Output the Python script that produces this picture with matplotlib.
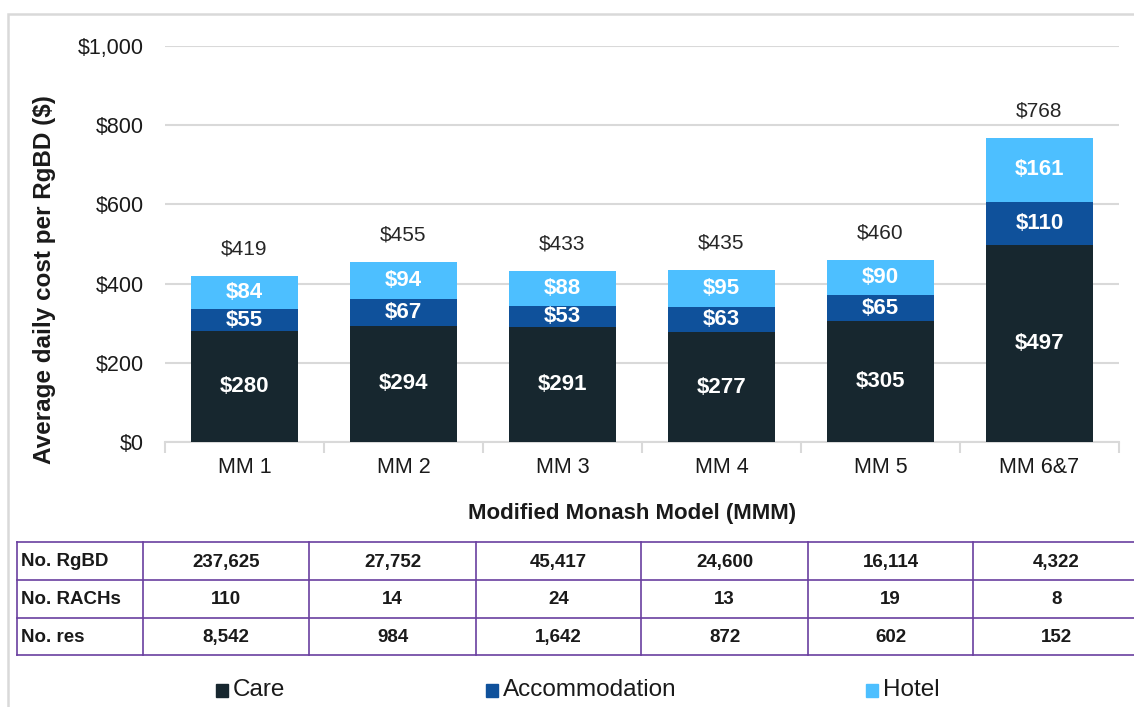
import matplotlib.pyplot as plt
from matplotlib.patches import Rectangle
import numpy as np

plt.rcParams['font.family'] = ['Liberation Sans', 'DejaVu Sans']

# Dados do gráfico
categorias = ['MM 1', 'MM 2', 'MM 3', 'MM 4', 'MM 5', 'MM 6&7']
care = [280, 294, 291, 277, 305, 497]
accommodation = [55, 67, 53, 63, 65, 110]
hotel = [84, 94, 88, 95, 90, 161]
totais = [419, 455, 433, 435, 460, 768]

# Tabela abaixo do gráfico
linhas_tabela = ['No. RgBD', 'No. RACHs', 'No. res']
rgbd = ['237,625', '27,752', '45,417', '24,600', '16,114', '4,322']
rachs = ['110', '14', '24', '13', '19', '8']
res = ['8,542', '984', '1,642', '872', '602', '152']

cor_care = '#17272f'
cor_acc = '#0f519b'
cor_hotel = '#4dbfff'
cinza = '#d9d9d9'
roxo = '#6a3fa0'
texto = '#1a1a1a'

W, H = 1134, 707
fig = plt.figure(figsize=(W / 100, H / 100), dpi=100)

# moldura cinza
fig.patches.append(Rectangle((8 / W, -0.1), 1.2, (H - 14) / H + 0.1, transform=fig.transFigure,
                             fill=False, edgecolor=cinza, lw=1.8))

ax = fig.add_axes([165 / W, 1 - 442 / H, (1119 - 165) / W, (442 - 46) / H])
x = np.arange(len(categorias))
larg = 0.67
b1 = ax.bar(x, care, larg, color=cor_care, zorder=3)
b2 = ax.bar(x, accommodation, larg, bottom=care, color=cor_acc, zorder=3)
base3 = np.array(care) + np.array(accommodation)
b3 = ax.bar(x, hotel, larg, bottom=base3, color=cor_hotel, zorder=3)

for barras, vals, base in [(b1, care, np.zeros(6)), (b2, accommodation, np.array(care)), (b3, hotel, base3)]:
    for i, (b, v) in enumerate(zip(barras, vals)):
        ax.text(b.get_x() + b.get_width() / 2, base[i] + v / 2, f'${v}', ha='center', va='center',
                color='white', fontsize=16, fontweight='bold', zorder=4)

for i, t in enumerate(totais):
    ax.text(x[i], t + 68, f'${t}', ha='center', va='center', fontsize=15, color='#262626')

ax.set_xlim(-0.5, 5.5)
ax.set_ylim(0, 1000)
ax.set_yticks(np.arange(0, 1001, 200))
ax.set_yticklabels([f'${v:,}' for v in range(0, 1001, 200)], fontsize=15.5, color=texto)
ax.grid(axis='y', color=cinza, lw=1.5, zorder=0)
for s in ['top', 'right', 'left']:
    ax.spines[s].set_visible(False)
ax.spines['bottom'].set_color(cinza)
ax.spines['bottom'].set_linewidth(1.5)
ax.tick_params(axis='y', length=0, pad=15)
ax.set_xticks(x)
ax.set_xticklabels(categorias, fontsize=15.5, color=texto)
ax.set_xticks(np.arange(-0.5, 6, 1), minor=True)
ax.tick_params(axis='x', which='major', length=0, pad=11)
ax.tick_params(axis='x', which='minor', length=8, color=cinza, width=1.5)

fig.text(45 / W, 1 - 280 / H, 'Average daily cost per RgBD ($)', rotation=90, ha='center', va='center',
         fontsize=17.5, fontweight='bold', color=texto)
fig.text(632 / W, 1 - 514 / H, 'Modified Monash Model (MMM)', ha='center', va='center',
         fontsize=16, fontweight='bold', color=texto)

# tabela em coordenadas de pixel
tb = fig.add_axes([0, 0, 1, 1], zorder=5)
tb.set_xlim(0, W)
tb.set_ylim(H, 0)
tb.axis('off')
col_x = [17, 143, 309, 476, 641, 808, 973, 1140]
lin_y = [542, 580, 618, 655]
for yy in lin_y:
    tb.plot([col_x[0], col_x[-1]], [yy, yy], color=roxo, lw=1.2)
for xx in col_x[:-1]:
    tb.plot([xx, xx], [lin_y[0], lin_y[-1]], color=roxo, lw=1.2)
for r, (nome, vals) in enumerate(zip(linhas_tabela, [rgbd, rachs, res])):
    yc = (lin_y[r] + lin_y[r + 1]) / 2 + 1
    tb.text(col_x[0] + 4, yc, nome, ha='left', va='center', fontsize=13.5, fontweight='bold', color=texto)
    for c, v in enumerate(vals):
        tb.text((col_x[c + 1] + col_x[c + 2]) / 2, yc, v, ha='center', va='center',
                fontsize=13.5, fontweight='bold', color=texto)

# legenda
for xs, nome, cor in [(222, 'Care', cor_care), (492, 'Accommodation', cor_acc), (872, 'Hotel', cor_hotel)]:
    tb.add_patch(Rectangle((xs - 6, 684), 12, 13, color=cor))
    tb.text(xs + 11, 690, nome, ha='left', va='center', fontsize=17.5, color=texto)

fig.savefig('out.png', dpi=100)
